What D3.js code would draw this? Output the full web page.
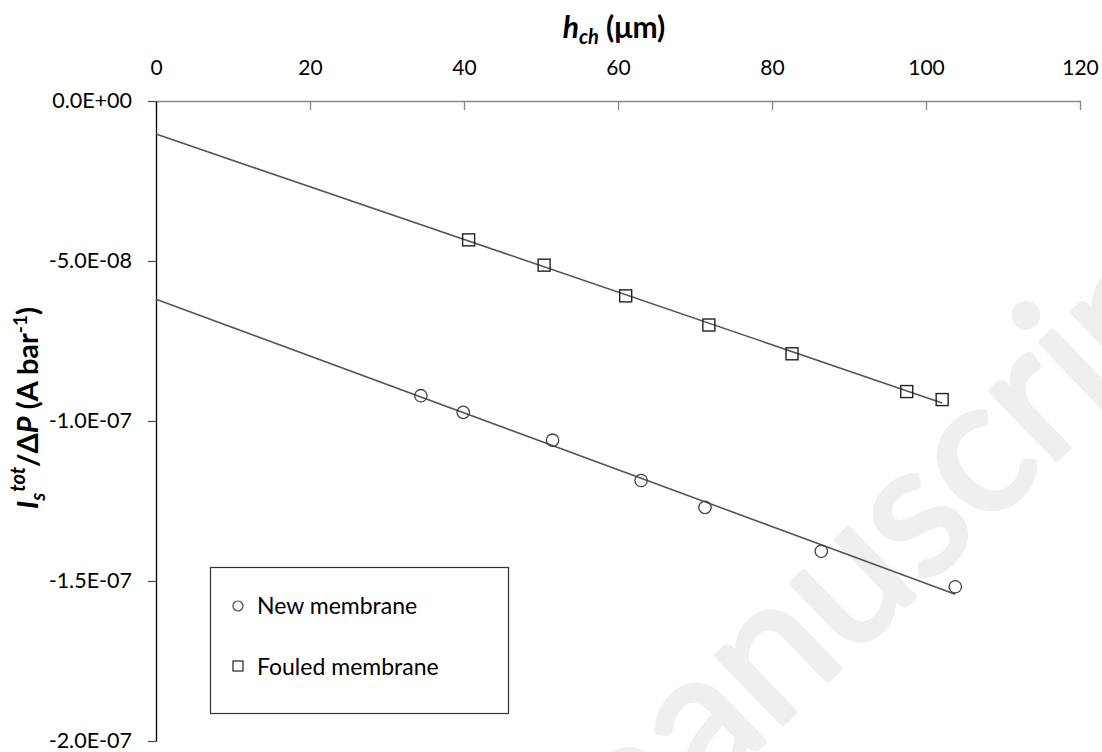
<!DOCTYPE html>
<html>
<head>
<meta charset="utf-8">
<script src="https://cdn.jsdelivr.net/npm/d3@7"></script>
<style>
  html, body { margin: 0; padding: 0; background: #fff; }
  svg { display: block; }
  text { font-family: Lato, "Open Sans", sans-serif; }
</style>
</head>
<body>
<svg id="chart" width="1102" height="752"></svg>
<script>
// ---- data ----
const newX = [34.4, 39.9, 51.5, 63.0, 71.3, 86.4, 103.8];
const newY = [-9.21e-8, -9.73e-8, -1.060e-7, -1.186e-7, -1.270e-7, -1.407e-7, -1.518e-7];
const fouledX = [40.6, 50.4, 61.0, 71.8, 82.6, 97.5, 102.1];
const fouledY = [-4.34e-8, -5.13e-8, -6.09e-8, -7.00e-8, -7.90e-8, -9.08e-8, -9.33e-8];
const xTicks = [0, 20, 40, 60, 80, 100, 120];
const yTicks = [0, -5e-8, -1e-7, -1.5e-7, -2e-7];
const yTickLabels = ["0.0E+00", "-5.0E-08", "-1.0E-07", "-1.5E-07", "-2.0E-07"];
const seriesNames = ["New membrane", "Fouled membrane"];
const watermarkText = ["Accepted m", "anuscript"];

// ---- layout ----
const svg = d3.select("#chart");
const x = d3.scaleLinear().domain([0, 120]).range([156, 1080]);
const y = d3.scaleLinear().domain([0, -2e-7]).range([101, 741]);

// watermark
const wm = svg.append("g")
  .attr("transform", "translate(706,798) rotate(-44)")
  .attr("fill", "#efefef").attr("stroke", "#efefef").attr("stroke-width", 5)
  .attr("stroke-linejoin", "round")
  .style("font-family", "'Liberation Sans', Arial, sans-serif")
  .style("font-size", "188px");
wm.append("text").attr("text-anchor", "end").text(watermarkText[0]);
wm.append("text").attr("text-anchor", "start").text(watermarkText[1]);

// linear regression for trendlines
function fit(xs, ys) {
  const mx = d3.mean(xs), my = d3.mean(ys);
  let sxy = 0, sxx = 0;
  xs.forEach((v, i) => { sxy += (v - mx) * (ys[i] - my); sxx += (v - mx) * (v - mx); });
  const b = sxy / sxx;
  return { a: my - b * mx, b };
}

// x axis (top)
const xAxis = d3.axisTop(x).tickValues(xTicks).tickSize(-9).tickSizeOuter(0).tickPadding(26)
  .tickFormat(d3.format("d"));
const gx = svg.append("g").attr("transform", "translate(0,101)").call(xAxis);
gx.select(".domain").attr("stroke", "#868686").attr("stroke-width", 1.3);
gx.selectAll(".tick line").attr("stroke", "#868686").attr("stroke-width", 1.3);
gx.selectAll("text").attr("fill", "#000").style("font-size", "21px").style("font-family", "Lato");

// y axis
const yAxis = d3.axisLeft(y).tickValues(yTicks).tickSize(8).tickSizeOuter(0).tickPadding(16)
  .tickFormat((d, i) => yTickLabels[i]);
const gy = svg.append("g").attr("transform", "translate(156,0)").call(yAxis);
gy.select(".domain").attr("stroke", "#000").attr("stroke-width", 1.3);
gy.selectAll(".tick line").attr("stroke", "#555").attr("stroke-width", 1.3);
gy.selectAll("text").attr("fill", "#000").style("font-size", "21.5px").style("font-family", "Lato");

// trendlines
const series = [
  { xs: newX, ys: newY, shape: "circle" },
  { xs: fouledX, ys: fouledY, shape: "square" }
];
series.forEach(s => {
  const f = fit(s.xs, s.ys);
  const xmax = d3.max(s.xs);
  svg.append("line")
    .attr("x1", x(0)).attr("y1", y(f.a))
    .attr("x2", x(xmax)).attr("y2", y(f.a + f.b * xmax))
    .attr("stroke", "#555").attr("stroke-width", 1.6);
});

// markers
const pts = (s) => s.xs.map((v, i) => ({ x: v, y: s.ys[i] }));
svg.append("g").selectAll("circle").data(pts(series[0])).join("circle")
  .attr("cx", d => x(d.x)).attr("cy", d => y(d.y)).attr("r", 6.2)
  .attr("fill", "none").attr("stroke", "#444").attr("stroke-width", 1.3);
svg.append("g").selectAll("rect").data(pts(series[1])).join("rect")
  .attr("x", d => x(d.x) - 6).attr("y", d => y(d.y) - 6)
  .attr("width", 12).attr("height", 12)
  .attr("fill", "none").attr("stroke", "#222").attr("stroke-width", 1.4);

// legend
const lg = svg.append("g");
lg.append("rect").attr("x", 210.5).attr("y", 567.5).attr("width", 298).attr("height", 146)
  .attr("fill", "#fff").attr("stroke", "#333").attr("stroke-width", 1.2);
lg.append("circle").attr("cx", 238).attr("cy", 606).attr("r", 5)
  .attr("fill", "none").attr("stroke", "#444").attr("stroke-width", 1.2);
lg.append("rect").attr("x", 233).attr("y", 661).attr("width", 10).attr("height", 10)
  .attr("fill", "none").attr("stroke", "#222").attr("stroke-width", 1.2);
lg.append("text").attr("x", 257).attr("y", 614).style("font-size", "23px").text(seriesNames[0]);
lg.append("text").attr("x", 257).attr("y", 675).style("font-size", "23px").text(seriesNames[1]);

// x title
const xt = svg.append("text").attr("x", 614).attr("y", 38).attr("text-anchor", "middle")
  .style("font-size", "30px").style("font-weight", "bold");
xt.append("tspan").style("font-style", "italic").text("h");
xt.append("tspan").style("font-style", "italic").style("font-size", "20px").attr("dy", 6).text("ch");
xt.append("tspan").attr("dy", -6).text(" (\u03BCm)");

// y title
const yt = svg.append("text").attr("transform", "translate(38,408) rotate(-90)")
  .attr("text-anchor", "middle").style("font-size", "29px").style("font-weight", "bold");
yt.append("tspan").style("font-style", "italic").text("I");
yt.append("tspan").style("font-style", "italic").style("font-size", "20px").attr("dy", 7).text("s");
yt.append("tspan").style("font-style", "italic").style("font-size", "20px").attr("dx", 1).attr("dy", -20).text("tot");
yt.append("tspan").attr("dy", 13).text("/\u0394");
yt.append("tspan").style("font-style", "italic").text("P");
yt.append("tspan").text(" (A bar");
yt.append("tspan").style("font-size", "19px").attr("dy", -11).text("-1");
yt.append("tspan").attr("dy", 11).text(")");
</script>
</body>
</html>
